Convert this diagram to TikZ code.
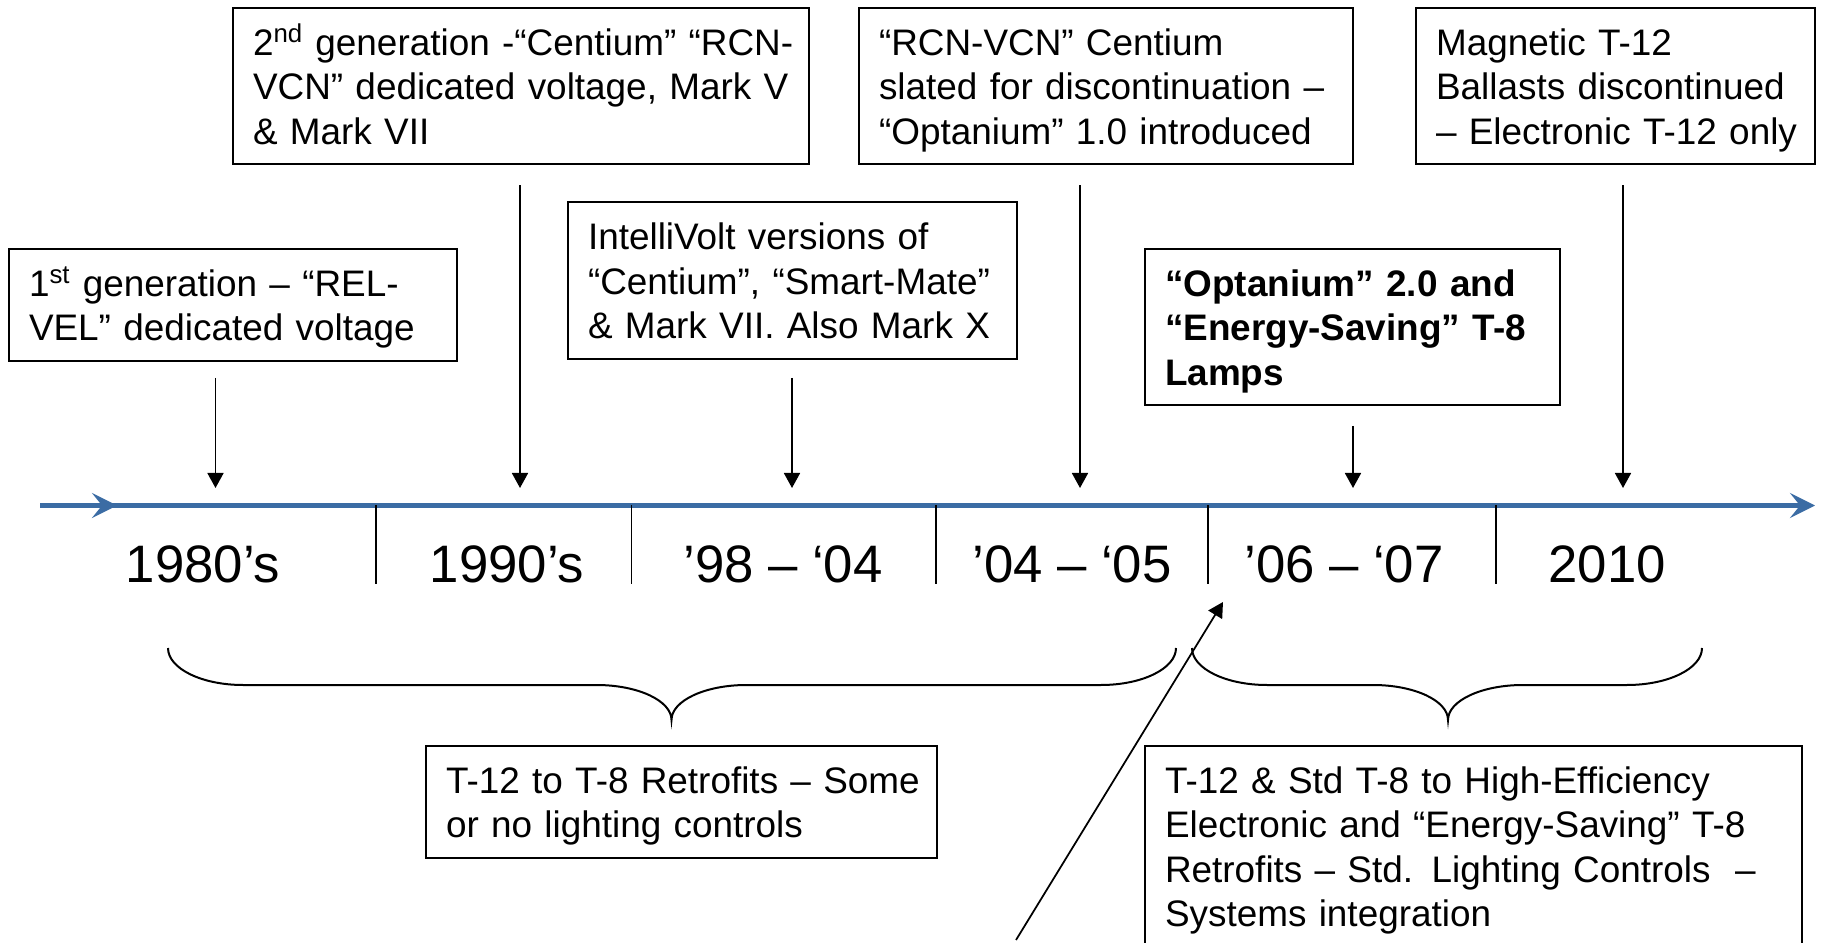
\documentclass[tikz,border=0pt]{standalone}
\usepackage{fontspec}
\setmainfont{Liberation Sans}
\usetikzlibrary{arrows.meta,calc}
\definecolor{lineblue}{RGB}{59,108,164}

\begin{document}
\begin{tikzpicture}[
  event/.style={rectangle,draw=black,line width=0.04cm,fill=white,anchor=north west,
                align=left,inner xsep=0.4cm,inner ysep=0.23cm,
                font=\fontsize{21}{25.3}\selectfont,
                execute at begin node={\rightskip=0pt plus 1fil minus 3cm\rule{0pt}{0.72cm}},
                execute at end node={\rule[-0.17cm]{0pt}{0.17cm}}},
  period/.style={font=\fontsize{30}{36}\selectfont,anchor=base,inner sep=0pt},
  tl/.style={lineblue,line width=0.09cm,-{Stealth[length=0.5cm,width=0.5cm,inset=0.2cm]}},
  tick/.style={line width=0.03cm},
  arr/.style={-{Triangle[length=0.3cm,width=0.32cm]},line width=0.035cm},
  brc/.style={line width=0.04cm}
]
\useasboundingbox (0,0) rectangle (36.74,18.84);

% ---- timeline ----
\coordinate (tl0) at (0.8,8.73);
\coordinate (tl1) at (2.34,8.73);
\coordinate (tl2) at (36.3,8.73);
\draw[tl] (tl0) -- (tl2);
\draw[tl] (tl0) -- (tl1);
\foreach \x in {7.52,12.63,18.72,24.16,29.92}{
  \draw[tick] (\x,8.73) -- (\x,7.16);
}
\foreach \x/\t/\n in {4.06/1980’s/p1,10.14/1990’s/p2,15.66/’98 – ‘04/p3,
                      21.44/’04 – ‘05/p4,26.88/’06 – ‘07/p5,32.14/2010/p6}{
  \node[period] (\n) at (\x,7.18) {\t};
}

% ---- events above the line ----
\node[event,text width=8.16cm] (b1) at (0.16,13.88) {1\textsuperscript{st} generation – “REL-\\VEL” dedicated voltage};
\node[event,text width=10.72cm] (b2) at (4.64,18.70) {2\textsuperscript{nd} generation -“Centium” “RCN-\\VCN” dedicated voltage, Mark V\\\& Mark VII};
\node[event,text width=8.18cm] (b3) at (11.34,14.81) {IntelliVolt versions of\\“Centium”, “Smart-Mate”\\\& Mark VII. Also Mark X};
\node[event,text width=9.08cm] (b4) at (17.16,18.70) {“RCN-VCN” Centium\\slated for discontinuation –\\“Optanium” 1.0 introduced};
\node[event,text width=7.50cm,font=\fontsize{21}{25.3}\selectfont\bfseries] (b5) at (22.88,13.88) {“Optanium” 2.0 and\\“Energy-Saving” T-8\\Lamps};
\node[event,text width=7.18cm] (b6) at (28.30,18.70) {Magnetic T-12\\Ballasts discontinued\\– Electronic T-12 only};

% ---- arrows down to the line ----
\coordinate (a1) at (4.31,9.08);
\coordinate (a2) at (10.40,9.08);
\coordinate (a3) at (15.84,9.08);
\coordinate (a4) at (21.60,9.08);
\coordinate (a5) at (27.06,9.08);
\coordinate (a6) at (32.46,9.08);
\draw[arr,shorten <=0.32cm] (b1.south -| a1) -- (a1);
\draw[arr,shorten <=0.4cm] (b2.south -| a2) -- (a2);
\draw[arr,shorten <=0.36cm] (b3.south -| a3) -- (a3);
\draw[arr,shorten <=0.4cm] (b4.south -| a4) -- (a4);
\draw[arr,shorten <=0.39cm] (b5.south -| a5) -- (a5);
\draw[arr,shorten <=0.4cm] (b6.south -| a6) -- (a6);

% ---- braces and retrofit phases ----
\draw[brc] (3.36,5.88) arc[start angle=180,end angle=270,x radius=1.5,y radius=0.74]
  -- (11.93,5.14) arc[start angle=90,end angle=0,x radius=1.5,y radius=0.70]
  arc[start angle=180,end angle=90,x radius=1.5,y radius=0.70]
  -- (22.02,5.14) arc[start angle=270,end angle=360,x radius=1.5,y radius=0.74];
\draw[brc] (23.84,5.88) arc[start angle=180,end angle=270,x radius=1.5,y radius=0.74]
  -- (27.46,5.14) arc[start angle=90,end angle=0,x radius=1.5,y radius=0.70]
  arc[start angle=180,end angle=90,x radius=1.5,y radius=0.70]
  -- (32.54,5.14) arc[start angle=270,end angle=360,x radius=1.5,y radius=0.74];

\node[event,text width=9.42cm] (b7) at (8.50,3.94) {T-12 to T-8 Retrofits – Some\\or no lighting controls};
\node[event,text width=12.34cm] (b8) at (22.88,3.94) {T-12 \& Std T-8 to High-Efficiency\\Electronic and “Energy-Saving” T-8\\Retrofits – Std. Lighting Controls\ \ –\\Systems integration};

% ---- pointer to the '05/'06 boundary ----
\coordinate (d0) at (20.32,0.04);
\coordinate (d1) at (24.46,6.80);
\draw[arr] (d0) -- (d1);

\end{tikzpicture}
\end{document}
